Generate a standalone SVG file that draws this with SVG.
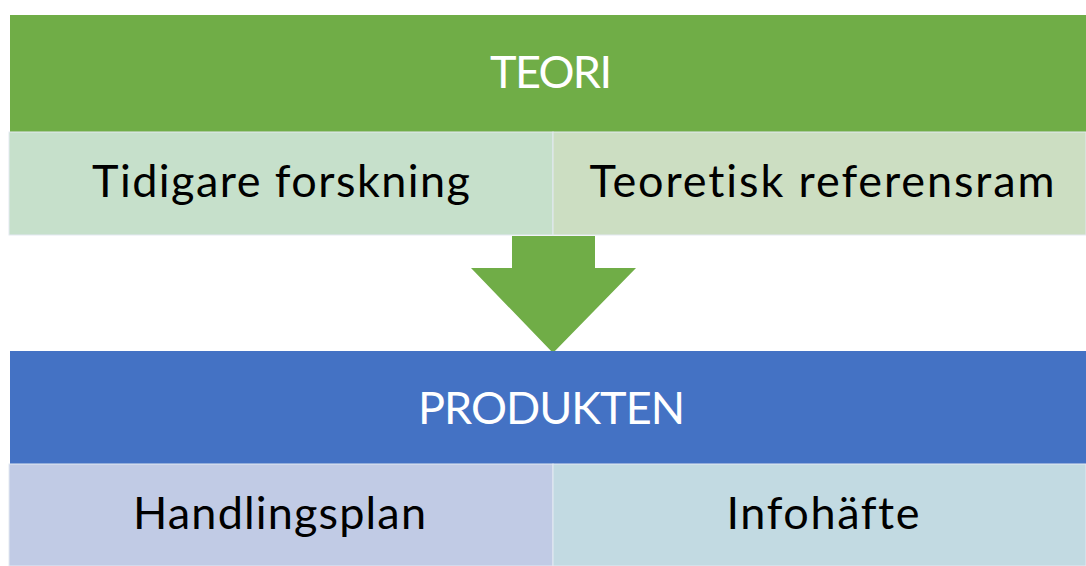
<svg xmlns="http://www.w3.org/2000/svg" width="1086" height="566" viewBox="0 0 1086 566">
<style>
.hdr{font-family:Lato,"Open Sans","Liberation Sans",sans-serif;font-size:45px;fill:#FFFFFF;text-anchor:middle;font-variant-ligatures:none}
.cell{font-family:Lato,"Open Sans","Liberation Sans",sans-serif;font-size:45px;fill:#000000;text-anchor:middle;font-variant-ligatures:none}
.sep{stroke:#E4E9F2;stroke-width:1}
</style>
<rect width="1086" height="566" fill="#FFFFFF"/>
<g id="teori">
<rect x="10" y="15" width="1076" height="117" fill="#70AD47"/>
<text class="hdr" x="551" y="88" textLength="122">TEORI</text>
</g>
<g id="tidigare-forskning">
<rect x="9" y="132" width="544" height="103" fill="#C6E0CB" class="sep"/>
<text class="cell" x="281" y="197" textLength="378">Tidigare forskning</text>
</g>
<g id="teoretisk-referensram">
<rect x="553" y="132" width="533" height="103" fill="#CCDEC2" class="sep"/>
<text class="cell" x="822" y="197" textLength="465">Teoretisk referensram</text>
</g>
<g id="connectors">
<polygon points="512,236 595,236 595,268 636,268 553,353 471,268 512,268" fill="#70AD47"/>
</g>
<g id="produkten">
<rect x="10" y="351" width="1076" height="113" fill="#4472C4"/>
<text class="hdr" x="551.5" y="424" textLength="267">PRODUKTEN</text>
</g>
<g id="handlingsplan">
<rect x="9" y="464" width="544" height="102" fill="#C1CBE5" class="sep"/>
<text class="cell" x="279.5" y="529" textLength="293">Handlingsplan</text>
</g>
<g id="infohafte">
<rect x="553" y="464" width="533" height="102" fill="#C2DAE2" class="sep"/>
<text class="cell" x="823" y="529" textLength="193">Infohäfte</text>
</g>
</svg>
